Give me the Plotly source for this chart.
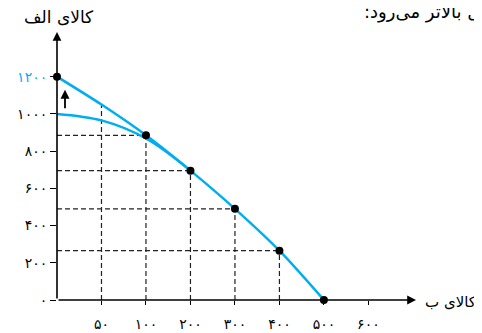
import plotly.graph_objects as go

# ---- data ----
categories = ['0', '50', '100', '200', '300', '400', '500', '600']
x_tick_vals = ['50', '100', '200', '300', '400', '500', '600']
x_tick_text = ['۵۰', '۱۰۰', '۲۰۰', '۳۰۰', '۴۰۰', '۵۰۰', '۶۰۰']
y_tick_vals = [0, 200, 400, 600, 800, 1000, 1200]
y_tick_text = ['۰', '۲۰۰', '۴۰۰', '۶۰۰', '۸۰۰', '۱۰۰۰',
               '<span style="color:#00AEEF">۱۲۰۰</span>']

new_x = ['0', '50', '100', '200', '300', '400', '500']
new_y = [1200, 1050, 885, 695, 490, 265, 0]

old_x = ['0', '50', '100', '200']
old_y = [1000, 965, 868, 695]

dot_x = ['0', '100', '200', '300', '400', '500']
dot_y = [1200, 885, 695, 490, 265, 0]

guide_x = ['50', '100', '200', '300', '400']
guide_y = [1050, 885, 695, 490, 265]

BLUE = '#00AEEF'
FONT = 'DejaVu Sans'

fig = go.Figure()

# dashed guides
vx, vy, hx, hy = [], [], [], []
for gx, gy in zip(guide_x, guide_y):
    vx += [gx, gx, None]
    vy += [0, gy, None]
    if gx != '50':
        hx += ['0', gx, None]
        hy += [gy, gy, None]
fig.add_trace(go.Scatter(x=vx, y=vy, mode='lines',
                         line=dict(color='#222', width=1.2, dash='5px,3px'),
                         hoverinfo='skip', showlegend=False))
fig.add_trace(go.Scatter(x=hx, y=hy, mode='lines',
                         line=dict(color='#222', width=1.2, dash='5px,3px'),
                         hoverinfo='skip', showlegend=False))

# curves
fig.add_trace(go.Scatter(x=old_x, y=old_y, mode='lines',
                         line=dict(color=BLUE, width=2.5, shape='spline', smoothing=1.0),
                         showlegend=False, cliponaxis=False))
fig.add_trace(go.Scatter(x=new_x, y=new_y, mode='lines',
                         line=dict(color=BLUE, width=2.5, shape='spline', smoothing=0.8),
                         showlegend=False, cliponaxis=False))
fig.add_trace(go.Scatter(x=dot_x, y=dot_y, mode='markers',
                         marker=dict(color='black', size=8),
                         showlegend=False, cliponaxis=False))

annotations = [
    # y axis arrow
    dict(x=0, y=1, xref='paper', yref='paper', ax=0, ay=268, axref='pixel', ayref='pixel',
         text='', showarrow=True, arrowhead=2, arrowsize=1.1, arrowwidth=1.6,
         arrowcolor='black', standoff=0),
    # x axis arrow
    dict(x=1, y=0, xref='paper', yref='paper', ax=-359, ay=0, axref='pixel', ayref='pixel',
         text='', showarrow=True, arrowhead=2, arrowsize=1.1, arrowwidth=1.6,
         arrowcolor='black', standoff=0),
    # small shift arrow
    dict(x=categories[0], y=1130, xref='x', yref='y', ax=0, ay=20, xshift=8,
         text='', showarrow=True, arrowhead=2, arrowsize=1.0, arrowwidth=1.8,
         arrowcolor='black', standoff=0),
    dict(x=-0.0975, y=1.056, xref='paper', yref='paper', xanchor='left', yanchor='middle',
         text='کالای الف',
         showarrow=False, font=dict(family=FONT, size=17, color='black')),
    dict(x=1.02, y=-0.008, xref='paper', yref='paper', xanchor='left', yanchor='middle',
         text='کالای ب',
         showarrow=False, font=dict(family=FONT, size=15, color='black')),
    dict(x=0.85, y=1.074, xref='paper', yref='paper', xanchor='left', yanchor='middle',
         text='ل بالاتر می‌رود:\u200f',
         showarrow=False, font=dict(family=FONT, size=18, color='black')),
]

fig.update_layout(
    template='none',
    width=474, height=325,
    margin=dict(l=49, r=66, t=24, b=33, autoexpand=False),
    plot_bgcolor='white', paper_bgcolor='white',
    font=dict(family=FONT, size=14, color='black'),
    annotations=annotations,
    xaxis=dict(type='category', categoryorder='array', categoryarray=categories,
               range=[0, 8.07], tickmode='array', tickvals=x_tick_vals, ticktext=x_tick_text,
               ticks='outside', ticklen=4, tickcolor='black', tickwidth=1, showgrid=False,
               zeroline=False, showline=False, ticklabelstandoff=7, fixedrange=True,
               automargin=False),
    yaxis=dict(range=[0, 1440], tickmode='array', tickvals=y_tick_vals, ticktext=y_tick_text,
               ticks='outside', ticklen=6, tickcolor='black', tickwidth=1, showgrid=False,
               zeroline=False, showline=False, fixedrange=True, automargin=False),
)

fig.write_html('out.html')
